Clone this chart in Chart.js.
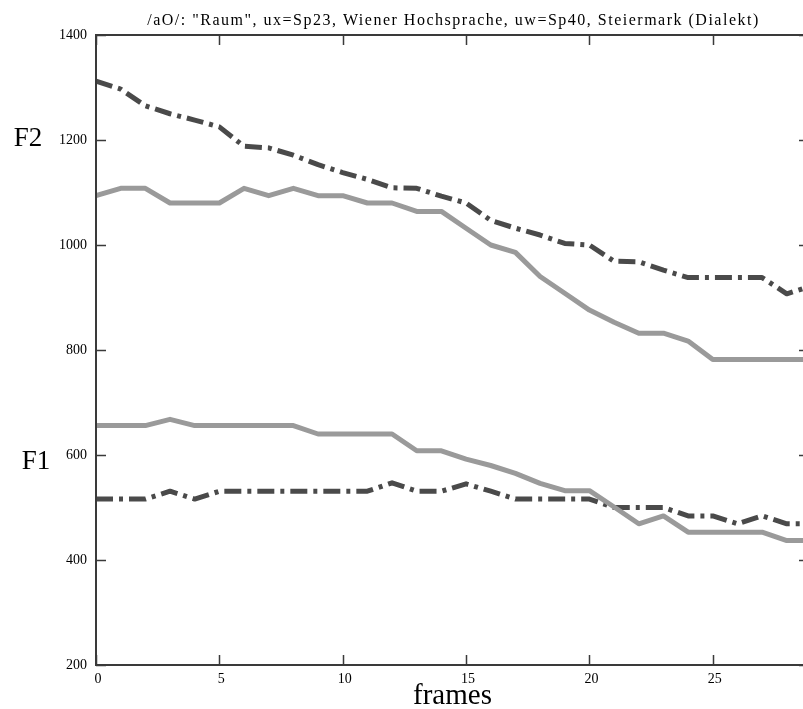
<!DOCTYPE html>
<html><head><meta charset="utf-8">
<script src="https://cdn.jsdelivr.net/npm/chart.js@4/dist/chart.umd.min.js"></script>
<style>
html,body{margin:0;padding:0;background:#fff;overflow:hidden;}
#wrap{position:relative;width:812px;height:709px;}
</style></head><body>
<div id="wrap"><canvas id="c"></canvas></div>
<script>
const chartTitle = '/aO/: "Raum", ux=Sp23, Wiener Hochsprache, uw=Sp40, Steiermark (Dialekt)';
const xAxisTitle = 'frames';
const formantNames = ['F2', 'F1'];

const frames = [0,1,2,3,4,5,6,7,8,9,10,11,12,13,14,15,16,17,18,19,20,21,22,23,24,25,26,27,28,29];
const f2_Sp23 = [1094,1108,1108,1080,1080,1080,1108,1094,1108,1094,1094,1080,1080,1064,1064,1032,1000,986,940,908,876,853,832,832,817,782,782,782,782,782];
const f2_Sp40 = [1312,1297,1265,1250,1238,1225,1188,1185,1171,1153,1138,1125,1109,1108,1093,1080,1047,1032,1019,1003,1000,969,968,952,938,938,938,938,907,922];
const f1_Sp23 = [656,656,656,668,656,656,656,656,656,640,640,640,640,608,608,592,580,565,546,532,532,501,469,484,453,453,453,453,437,437];
const f1_Sp40 = [516,516,516,531,516,531,531,531,531,531,531,531,547,531,531,545,531,516,516,516,516,500,500,500,484,484,469,484,469,469];

const xTickValues = [0,5,10,15,20,25];
const yTickValues = [200,400,600,800,1000,1200,1400];

const SERIF = '"Liberation Serif", "Times New Roman", serif';
const solidColor = '#9a9a9a';
const dashColor = '#4a4a4a';

const pts = arr => frames.map((f, i) => ({x: f, y: arr[i]}));

const solidStyle = {borderColor: solidColor, borderWidth: 5, pointRadius: 0, tension: 0, fill: false, borderCapStyle: 'butt', borderJoinStyle: 'round'};
const dashStyle = {borderColor: dashColor, borderWidth: 5, pointRadius: 0, tension: 0, fill: false, borderDash: [17, 6, 4, 6], borderCapStyle: 'butt', borderJoinStyle: 'round'};

const framePlugin = {
  id: 'frameAndText',
  afterDatasetsDraw(chart) {
    const {ctx, chartArea: {left, right, top, bottom}, scales: {x, y}} = chart;
    ctx.save();
    ctx.strokeStyle = '#3a3a3a';
    ctx.lineWidth = 2;
    ctx.strokeRect(left, top, right - left, bottom - top);
    ctx.lineWidth = 1.5;
    const tl = 10;
    ctx.beginPath();
    x.ticks.forEach(t => {
      const px = Math.round(x.getPixelForValue(t.value)) + 0.5;
      ctx.moveTo(px, bottom); ctx.lineTo(px, bottom - tl);
      ctx.moveTo(px, top); ctx.lineTo(px, top + tl);
    });
    y.ticks.forEach(t => {
      const py = Math.round(y.getPixelForValue(t.value)) + 0.5;
      ctx.moveTo(left, py); ctx.lineTo(left + tl, py);
      ctx.moveTo(right, py); ctx.lineTo(right - tl, py);
    });
    ctx.stroke();
    ctx.restore();
  },
  afterDraw(chart) {
    const {ctx, chartArea: {left, right}, scales: {y}} = chart;
    ctx.save();
    ctx.fillStyle = '#000';
    // title
    ctx.font = '16px ' + SERIF;
    ctx.letterSpacing = '1.5px';
    ctx.textAlign = 'center';
    ctx.textBaseline = 'alphabetic';
    ctx.fillText(chartTitle, (left + right) / 2 + 1, 25);
    ctx.letterSpacing = '0px';
    // formant labels, placed at the mean of the two series at frame 0
    ctx.font = '27px ' + SERIF;
    ctx.textBaseline = 'middle';
    const f2y = y.getPixelForValue((f2_Sp23[0] + f2_Sp40[0]) / 2);
    const f1y = y.getPixelForValue((f1_Sp23[0] + f1_Sp40[0]) / 2);
    ctx.fillText(formantNames[0], 28, f2y);
    ctx.fillText(formantNames[1], 36, f1y);
    ctx.restore();
  }
};

new Chart(document.getElementById('c'), {
  type: 'line',
  data: {
    datasets: [
      Object.assign({label: 'F2 Sp40', data: pts(f2_Sp40)}, dashStyle),
      Object.assign({label: 'F2 Sp23', data: pts(f2_Sp23)}, solidStyle),
      Object.assign({label: 'F1 Sp23', data: pts(f1_Sp23)}, solidStyle),
      Object.assign({label: 'F1 Sp40', data: pts(f1_Sp40)}, dashStyle)
    ]
  },
  options: {
    responsive: true,
    maintainAspectRatio: false,
    animation: false,
    layout: {padding: {top: 35, right: 3, left: 0, bottom: 0}},
    plugins: {legend: {display: false}, title: {display: false}, tooltip: {enabled: false}},
    scales: {
      x: {
        type: 'linear', min: 0, max: 28.9,
        grid: {display: false, drawTicks: false}, border: {display: false},
        afterBuildTicks: s => { s.ticks = xTickValues.map(v => ({value: v})); },
        afterFit: s => { s.height = 44; },
        ticks: {color: '#000', font: {family: SERIF, size: 14}, padding: 6, labelOffset: 2, maxRotation: 0, autoSkip: false, callback: v => String(v)},
        title: {display: true, text: xAxisTitle, color: '#000', font: {family: SERIF, size: 29, lineHeight: 1}, padding: {top: 0, bottom: -2}}
      },
      y: {
        type: 'linear', min: 200, max: 1400,
        grid: {display: false, drawTicks: false}, border: {display: false},
        afterBuildTicks: s => { s.ticks = yTickValues.map(v => ({value: v})); },
        afterFit: s => { s.width = 96; },
        ticks: {color: '#000', font: {family: SERIF, size: 14}, padding: 9, autoSkip: false, callback: v => String(v)}
      }
    }
  },
  plugins: [framePlugin]
});
</script>
</body></html>
